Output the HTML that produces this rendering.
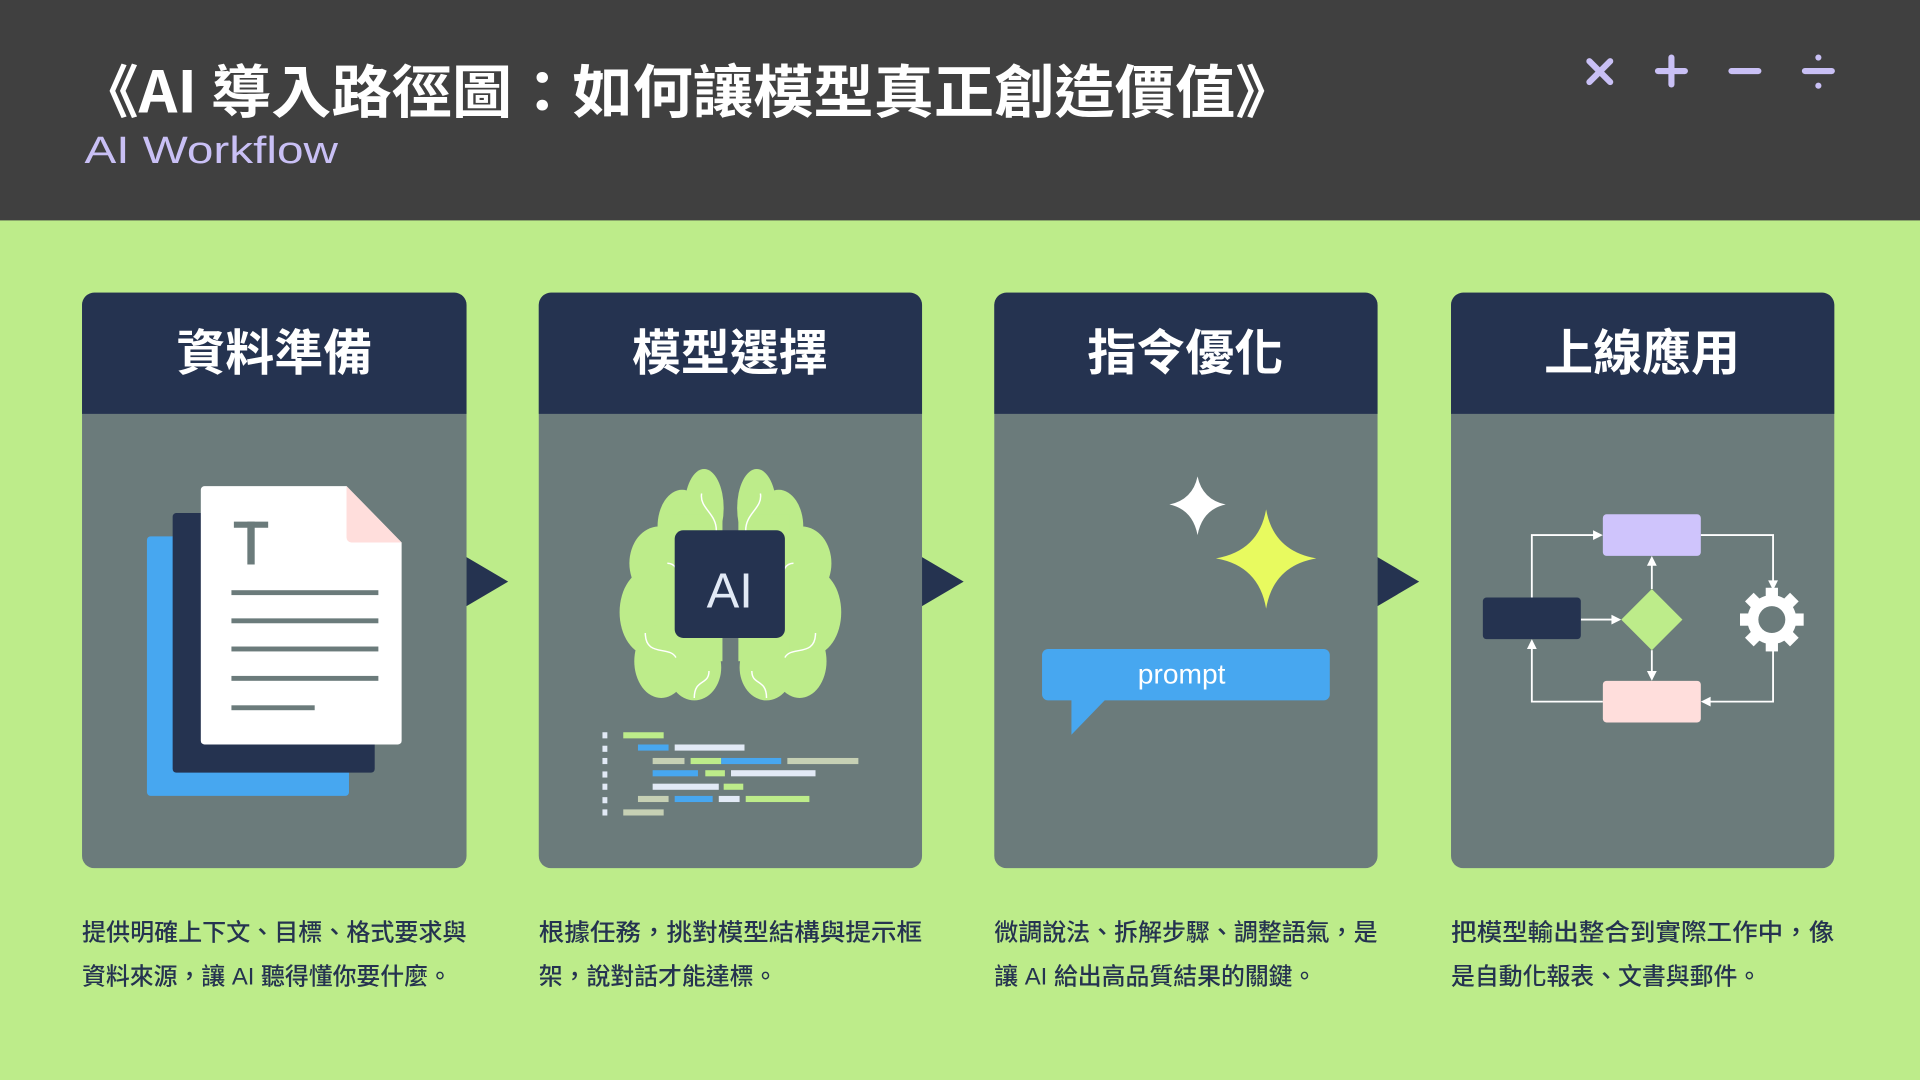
<!DOCTYPE html>
<html><head><meta charset="utf-8"><style>
html,body{margin:0;padding:0;width:1920px;height:1080px;overflow:hidden;background:#bdec8a}
svg{display:block}
text{font-family:"Liberation Sans","Noto Sans CJK TC",sans-serif}
.cj{font-family:"Noto Sans CJK TC","Liberation Sans",sans-serif}
</style></head><body>
<svg width="1920" height="1080" viewBox="0 0 1568 882" xmlns="http://www.w3.org/2000/svg">
<rect width="1568" height="882" fill="#bdec8a"/>
<rect width="1568" height="180" fill="#404040"/>
<text x="64" y="92" class="cj" font-size="47" font-weight="700" fill="#fff" textLength="994" lengthAdjust="spacingAndGlyphs">《AI 導入路徑圖：如何讓模型真正創造價值》</text>
<text x="69" y="133" font-family="'DejaVu Sans',sans-serif" font-size="31" fill="#c9c0f5" textLength="207" lengthAdjust="spacingAndGlyphs">AI Workflow</text>
<g stroke="#c9c0f5" stroke-width="5" stroke-linecap="round" fill="#c9c0f5">
<line x1="1298" y1="50" x2="1315" y2="67"/><line x1="1315" y1="50" x2="1298" y2="67"/>
<line x1="1354" y1="58" x2="1376" y2="58"/><line x1="1365" y1="47" x2="1365" y2="69"/>
<line x1="1414" y1="58" x2="1436" y2="58"/>
<line x1="1474" y1="58" x2="1496" y2="58"/>
<circle cx="1485" cy="47" r="2.5" stroke="none"/><circle cx="1485" cy="70" r="2.5" stroke="none"/>
</g>

<!-- cards -->
<g>
<rect x="67" y="239" width="314" height="470" rx="10" fill="#6b7b7b"/>
<path d="M67 249a10 10 0 0 1 10-10h294a10 10 0 0 1 10 10v89H67z" fill="#253350"/>
<rect x="440" y="239" width="313" height="470" rx="10" fill="#6b7b7b"/>
<path d="M440 249a10 10 0 0 1 10-10h293a10 10 0 0 1 10 10v89H440z" fill="#253350"/>
<rect x="812" y="239" width="313" height="470" rx="10" fill="#6b7b7b"/>
<path d="M812 249a10 10 0 0 1 10-10h293a10 10 0 0 1 10 10v89H812z" fill="#253350"/>
<rect x="1185" y="239" width="313" height="470" rx="10" fill="#6b7b7b"/>
<path d="M1185 249a10 10 0 0 1 10-10h293a10 10 0 0 1 10 10v89h-313z" fill="#253350"/>
</g>
<g class="cj" font-size="40" font-weight="700" fill="#fff" text-anchor="middle">
<text x="224" y="302">資料準備</text>
<text x="596" y="302">模型選擇</text>
<text x="968" y="302">指令優化</text>
<text x="1341" y="302">上線應用</text>
</g>
<g fill="#253350">
<path d="M381 455L415 475L381 495z"/>
<path d="M753 455L787 475L753 495z"/>
<path d="M1125 455L1159 475L1125 495z"/>
</g>

<!-- card1 doc -->
<rect x="120" y="438" width="165" height="212" rx="3" fill="#47a7f0"/>
<rect x="141" y="419" width="165" height="212" rx="3" fill="#253350"/>
<path d="M167 397H283L328 443V605a3 3 0 0 1-3 3H167a3 3 0 0 1-3-3V400a3 3 0 0 1 3-3z" fill="#fff"/>
<path d="M283 397L328 443H287a4 4 0 0 1-4-4z" fill="#ffdedc"/>
<g fill="#6b7b7b">
<rect x="191" y="426" width="28" height="5"/><rect x="202" y="426" width="6" height="35"/>
<rect x="189" y="482" width="120" height="4"/>
<rect x="189" y="505" width="120" height="4"/>
<rect x="189" y="528" width="120" height="4"/>
<rect x="189" y="552" width="120" height="4"/>
<rect x="189" y="576" width="68" height="4"/>
</g>

<!-- card2 brain -->
<g fill="#bdec8a">
<ellipse cx="575" cy="415" rx="16" ry="32"/><ellipse cx="557" cy="430" rx="20" ry="30"/>
<ellipse cx="538" cy="460" rx="24" ry="30"/><ellipse cx="530" cy="500" rx="24" ry="35"/>
<ellipse cx="540" cy="540" rx="22" ry="30"/><ellipse cx="567" cy="545" rx="22" ry="27"/>
<rect x="548" y="420" width="42" height="120"/>
<ellipse cx="618" cy="415" rx="16" ry="32"/><ellipse cx="636" cy="430" rx="20" ry="30"/>
<ellipse cx="655" cy="460" rx="24" ry="30"/><ellipse cx="663" cy="500" rx="24" ry="35"/>
<ellipse cx="653" cy="540" rx="22" ry="30"/><ellipse cx="626" cy="545" rx="22" ry="27"/>
<rect x="603" y="420" width="42" height="120"/>
</g>
<g fill="none" stroke="#fff" stroke-width="1.2">
<path d="M683 0"/>
<path d="M573 403c-2 12 12 16 12 30s-8 10-12 12"/><path d="M545 460c14 0 6 26 22 26"/>
<path d="M527 517c0 20 20 10 25 20"/><path d="M567 570c0-16 12-10 12-22"/>
<path d="M621 403c2 12-12 16-12 30s8 10 12 12"/><path d="M648 460c-14 0-6 26-22 26"/>
<path d="M666 517c0 20-20 10-25 20"/><path d="M626 570c0-16-12-10-12-22"/>
</g>
<rect x="551" y="433" width="90" height="88" rx="7" fill="#253350"/>
<text x="596" y="496" text-anchor="middle" font-family="'DejaVu Sans',sans-serif" font-size="40" fill="#e2eaf6">AI</text>
<g>
<g fill="#e2eaf6"><rect x="492" y="598" width="4" height="5"/><rect x="492" y="609" width="4" height="5"/><rect x="492" y="619" width="4" height="5"/><rect x="492" y="630" width="4" height="5"/><rect x="492" y="640" width="4" height="5"/><rect x="492" y="651" width="4" height="5"/><rect x="492" y="661" width="4" height="5"/></g>
<rect x="509" y="598" width="33" height="5" fill="#bdec8a"/>
<rect x="521" y="608" width="25" height="5" fill="#47a7f0"/><rect x="551" y="608" width="57" height="5" fill="#e2eaf6"/>
<rect x="533" y="619" width="26" height="5" fill="#c6d0b4"/><rect x="564" y="619" width="25" height="5" fill="#bdec8a"/><rect x="589" y="619" width="49" height="5" fill="#47a7f0"/><rect x="643" y="619" width="58" height="5" fill="#c6d0b4"/>
<rect x="533" y="629" width="37" height="5" fill="#47a7f0"/><rect x="576" y="629" width="16" height="5" fill="#bdec8a"/><rect x="597" y="629" width="69" height="5" fill="#e2eaf6"/>
<rect x="533" y="640" width="54" height="5" fill="#e2eaf6"/><rect x="591" y="640" width="16" height="5" fill="#bdec8a"/>
<rect x="521" y="650" width="25" height="5" fill="#c6d0b4"/><rect x="551" y="650" width="31" height="5" fill="#47a7f0"/><rect x="587" y="650" width="17" height="5" fill="#e2eaf6"/><rect x="609" y="650" width="52" height="5" fill="#bdec8a"/>
<rect x="509" y="661" width="33" height="5" fill="#c6d0b4"/>
</g>

<!-- card3 -->
<path d="M978 389Q982 408 1001 412Q982 416 978 437Q974 416 955 412Q974 408 978 389z" fill="#fff"/>
<path d="M1034 416Q1040 450 1075 456Q1040 462 1034 497Q1028 462 993 456Q1028 450 1034 416z" fill="#e8fa5f"/>
<rect x="851" y="530" width="235" height="42" rx="5" fill="#47a7f0"/>
<path d="M875 568L875 600L906 568z" fill="#47a7f0"/>
<text x="965" y="558" text-anchor="middle" font-family="'DejaVu Sans',sans-serif" font-size="23" fill="#fff">prompt</text>

<!-- card4 flowchart -->
<g fill="none" stroke="#fff" stroke-width="1.5">
<polyline points="1251,488 1251,437 1302,437"/>
<polyline points="1389,437 1448,437 1448,476"/>
<polyline points="1448,530 1448,573 1396,573"/>
<polyline points="1309,573 1251,573 1251,529"/>
<line x1="1291" y1="506" x2="1318" y2="506"/>
<line x1="1349" y1="481" x2="1349" y2="461"/>
<line x1="1349" y1="531" x2="1349" y2="549"/>
</g>
<g fill="#fff">
<path d="M1309 437l-8-4v8z"/><path d="M1448 482l-4-8h8z"/><path d="M1389 573l8-4v8z"/>
<path d="M1251 522l-4 8h8z"/><path d="M1324 506l-8-4v8z"/><path d="M1349 454l-4 8h8z"/><path d="M1349 556l-4-8h8z"/>
</g>
<rect x="1309" y="420" width="80" height="34" rx="3" fill="#cfc4fc"/>
<rect x="1309" y="556" width="80" height="34" rx="3" fill="#ffdedc"/>
<rect x="1211" y="488" width="80" height="34" rx="3" fill="#253350"/>
<path d="M1349 481L1374 506L1349 531L1324 506z" fill="#bdec8a"/>
<g transform="translate(1447,506)" fill="#fff">
<circle r="20"/>
<rect x="-5" y="-26" width="10" height="10"/><rect x="-5" y="-26" width="10" height="10" transform="rotate(45)"/>
<rect x="-5" y="-26" width="10" height="10" transform="rotate(90)"/><rect x="-5" y="-26" width="10" height="10" transform="rotate(135)"/>
<rect x="-5" y="-26" width="10" height="10" transform="rotate(180)"/><rect x="-5" y="-26" width="10" height="10" transform="rotate(225)"/>
<rect x="-5" y="-26" width="10" height="10" transform="rotate(270)"/><rect x="-5" y="-26" width="10" height="10" transform="rotate(315)"/>
<circle r="11" fill="#6b7b7b"/>
</g>

<!-- descriptions -->
<g class="cj" font-size="19.5" fill="#253350" font-weight="500">
<text x="67" y="768" textLength="314" lengthAdjust="spacingAndGlyphs">提供明確上下文、目標、格式要求與</text>
<text x="67" y="804">資料來源，讓 AI 聽得懂你要什麼。</text>
<text x="440" y="768" textLength="313" lengthAdjust="spacingAndGlyphs">根據任務，挑對模型結構與提示框</text>
<text x="440" y="804">架，說對話才能達標。</text>
<text x="812" y="768" textLength="313" lengthAdjust="spacingAndGlyphs">微調說法、拆解步驟、調整語氣，是</text>
<text x="812" y="804">讓 AI 給出高品質結果的關鍵。</text>
<text x="1185" y="768" textLength="313" lengthAdjust="spacingAndGlyphs">把模型輸出整合到實際工作中，像</text>
<text x="1185" y="804">是自動化報表、文書與郵件。</text>
</g>
</svg>
</body></html>
